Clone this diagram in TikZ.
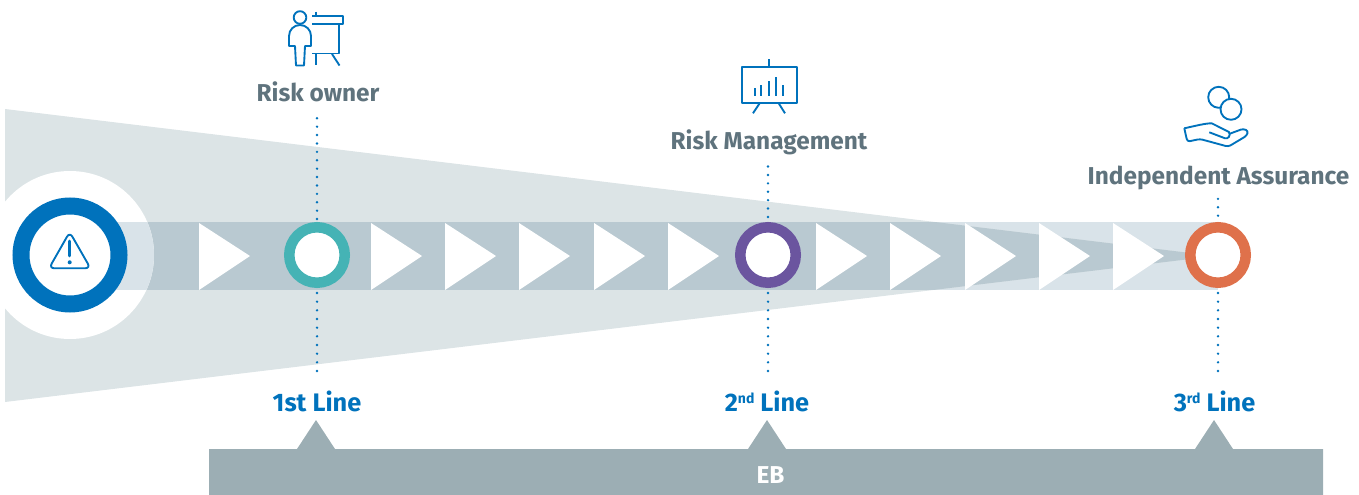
\documentclass[tikz,border=0pt]{standalone}
\usepackage{fontspec}
\setmainfont{Fira Sans}
\definecolor{coneblue}{HTML}{DCE4E6}
\definecolor{bandlight}{HTML}{D9E3E9}
\definecolor{banddark}{HTML}{B9C9D1}
\definecolor{riskblue}{HTML}{0072BC}
\definecolor{ringgreen}{HTML}{45B3B5}
\definecolor{ringpurple}{HTML}{6B559F}
\definecolor{ringorange}{HTML}{DF714B}
\definecolor{labelgray}{HTML}{5F737D}
\definecolor{basegray}{HTML}{9CAEB4}
\newcommand{\linesup}[1]{\raisebox{0.62ex}{\fontsize{10.5}{10.5}\selectfont #1}}
\tikzset{
  ring/.style = {
    circle, draw=#1, fill=white, line width=7.9pt,
    minimum size=41.6pt, inner sep=0pt
  },
  ownertext/.style = {
    anchor=base, inner sep=0pt, text height=13pt, text depth=4pt,
    text=labelgray, font=\fontsize{18.3}{18.3}\selectfont\bfseries
  },
  linetext/.style = {
    ownertext, text=riskblue, font=\fontsize{19}{19}\selectfont\bfseries
  },
  dotline/.style = {
    riskblue, line width=2pt, line cap=round,
    dash pattern=on 0pt off 6.5pt
  },
  dotlineup/.style = {
    dotline, dash pattern=on 0pt off 6.3pt
  },
  iconline/.style = {riskblue, line width=1.4pt, line join=round}
}

\begin{document}
\begin{tikzpicture}[x=0.75pt,y=-0.75pt]
  \useasboundingbox (0,0) rectangle (1359,495);
  % band and cone
  \fill[bandlight] (70,222) rectangle (1218,290);
  \fill[coneblue] (5,109) -- (1215,256) -- (5,402) -- cycle;
  \begin{scope}
    \clip (5,109) -- (1215,256) -- (5,402) -- cycle;
    \fill[banddark] (70,222) rectangle (1218,290);
  \end{scope}
  \fill[white] (70,255) circle (84);
  \begin{scope}
    \clip (70,255) circle (84);
    \fill[bandlight] (70,222) rectangle (1218,290);
  \end{scope}
  % arrows
  \foreach \X in {199,371,445,519,594,668,816,890,965,1039,1113} {
    \fill[white] (\X,223) -- ++(51,33) -- ++(-51,34) -- cycle;
  }
  % labels
  \node[ownertext] (owner) at (318,102) {Risk owner};
  \node[ownertext] (management) at (769,149.5) {Risk Management};
  \node[ownertext] (assurance) at (1218.5,185) {Independent Assurance};
  \node[linetext] (first) at (317,411.5) {1st Line};
  \node[linetext] (second) at (767,411.5) {2\linesup{nd} Line};
  \node[linetext] (third) at (1214.5,411.5) {3\linesup{rd} Line};
  % rings
  \node[ring=riskblue,line width=12.75pt,minimum size=73.5pt] (hazard) at (70,255) {};
  \node[ring=ringgreen] (ringa) at (317,255) {};
  \node[ring=ringpurple] (ringb) at (768,255) {};
  \node[ring=ringorange] (ringc) at (1218,255) {};
  % dotted lines
  \draw[dotlineup,shorten <=8pt] (owner.south -| ringa.north) -- (ringa.north);
  \draw[dotlineup,shorten <=8.6pt] (management.south -| ringb.north) -- (ringb.north);
  \draw[dotlineup,shorten <=6.2pt] (assurance.south -| ringc.north) -- (ringc.north);
  \draw[dotline,shorten <=3.75pt,shorten >=16.5pt] (ringa.south) -- (ringa.south |- first.north);
  \draw[dotline,shorten <=3.75pt,shorten >=16.5pt] (ringb.south) -- (ringb.south |- second.north);
  \draw[dotline,shorten <=3.75pt,shorten >=16.5pt] (ringc.south) -- (ringc.south |- third.north);
  % warning sign
  \draw[iconline,rounded corners=4] (69.7,232) -- (90.5,268.3) -- (49,268.3) -- cycle;
  \draw[riskblue,line width=1.9pt,line cap=round] (69.7,241) -- (69.7,256);
  \fill[riskblue] (69.7,262.3) circle (2);
  % presenter
  \draw[iconline] (300,17.5) circle (6.3);
  \draw[iconline] (296,65.5) -- (295,46) -- (289,46) -- (289,36)
    arc (180:360:11) -- (311,46) -- (305,46) -- (304,65.5) -- cycle;
  \draw[iconline] (312,15.7) -- (343,15.7) -- (343,24) -- (312,24);
  \draw[iconline] (316,11.7) -- (316,15.7);
  \draw[iconline] (339,24) -- (339,53.5) -- (312,53.5);
  \draw[iconline] (316,53.5) -- (316,65.5);
  \draw[iconline] (332,54) -- (339.5,65.5);
  % chart
  \draw[iconline] (741.7,66.7) rectangle (796.7,102.7);
  \draw[iconline] (769,59.3) -- (769,66.7);
  \draw[iconline] (760,102.7) -- (753,113.3);
  \draw[iconline] (778.3,102.7) -- (785,113.3);
  \foreach \X/\Y in {755/88.3,761.3/85,769/80.7,776.3/76.7,783/85} {
    \draw[iconline] (\X,96) -- (\X,\Y);
  }
  % coins and hand
  \draw[iconline] (1218.7,97.3) circle (10.5);
  \draw[iconline,fill=white] (1231,109.3) circle (10.5);
  \draw[iconline,rounded corners=2] (1184.3,128.3) -- (1187.3,141.7)
    -- (1200,139) -- (1228.3,146.7) -- (1246.7,135.7)
    -- (1248.3,131) -- (1243.3,128.7) -- (1229,134);
  \draw[iconline] (1184.3,128.3) .. controls (1195,126) and (1205,123.3) .. (1211.7,123.3)
    -- (1229,132) .. controls (1231,136) and (1228,139) .. (1225,138.3) -- (1209.3,132.3);
  % base bar
  \fill[basegray] (209,495) -- (209,449) -- (297,449) -- (316,420) -- (335,449)
    -- (748,449) -- (767,420) -- (786,449) -- (1195,449) -- (1214,420) -- (1233,449)
    -- (1323,449) -- (1323,495) -- cycle;
  \node[ownertext,text=white] (eb) at (770.5,483.5) {EB};
\end{tikzpicture}
\end{document}
